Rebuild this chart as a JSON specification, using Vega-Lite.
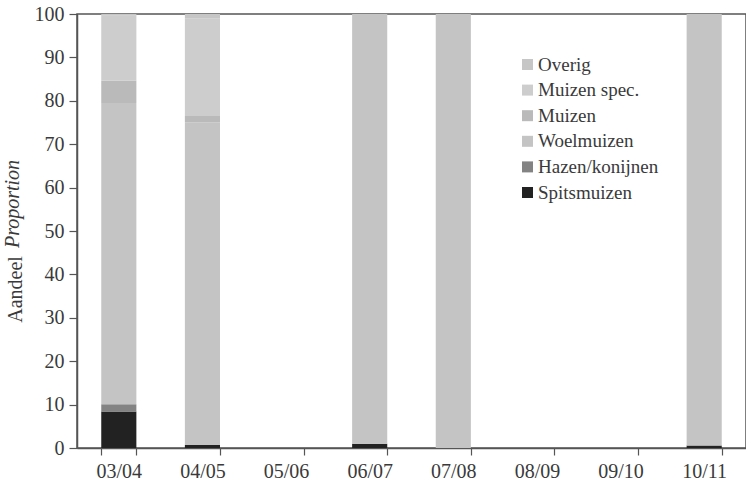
{
  "$schema": "https://vega.github.io/schema/vega-lite/v6.json",
  "autosize": {"type": "none"},
  "padding": {"left": 77, "top": 14, "right": 0, "bottom": 39},
  "width": 669,
  "height": 434,
  "background": "white",
  "title": {
    "text": "Proportion",
    "orient": "left",
    "anchor": "middle",
    "frame": "group",
    "font": "Liberation Serif",
    "fontSize": 20,
    "fontStyle": "italic",
    "fontWeight": "normal",
    "color": "#3a3a3a",
    "offset": -18,
    "dx": 27
  },
  "data": {
    "values": [
      {"season": "03/04", "group": "Spitsmuizen", "n": 1, "pct": 8.4},
      {"season": "03/04", "group": "Hazen/konijnen", "n": 2, "pct": 1.7},
      {"season": "03/04", "group": "Woelmuizen", "n": 3, "pct": 69.4},
      {"season": "03/04", "group": "Muizen", "n": 4, "pct": 5.1},
      {"season": "03/04", "group": "Muizen spec.", "n": 5, "pct": 15.0},
      {"season": "03/04", "group": "Overig", "n": 6, "pct": 0.4},
      {"season": "04/05", "group": "Spitsmuizen", "n": 1, "pct": 0.7},
      {"season": "04/05", "group": "Woelmuizen", "n": 3, "pct": 74.3},
      {"season": "04/05", "group": "Muizen", "n": 4, "pct": 1.5},
      {"season": "04/05", "group": "Muizen spec.", "n": 5, "pct": 22.5},
      {"season": "04/05", "group": "Overig", "n": 6, "pct": 1.0},
      {"season": "06/07", "group": "Spitsmuizen", "n": 1, "pct": 1.0},
      {"season": "06/07", "group": "Woelmuizen", "n": 3, "pct": 99.0},
      {"season": "07/08", "group": "Woelmuizen", "n": 3, "pct": 100},
      {"season": "10/11", "group": "Spitsmuizen", "n": 1, "pct": 0.6},
      {"season": "10/11", "group": "Woelmuizen", "n": 3, "pct": 99.4}
    ]
  },
  "mark": {"type": "bar", "stroke": null},
  "encoding": {
    "x": {
      "field": "season",
      "type": "nominal",
      "scale": {
        "domain": ["03/04", "04/05", "05/06", "06/07", "07/08", "08/09", "09/10", "10/11"],
        "paddingInner": 0.58,
        "paddingOuter": 0.29
      },
      "axis": {
        "title": null,
        "labelAngle": 0,
        "tickBand": "extent",
        "tickSize": 7,
        "labelPadding": 6,
        "grid": false
      }
    },
    "y": {
      "field": "pct",
      "type": "quantitative",
      "stack": "zero",
      "scale": {"domain": [0, 100], "nice": false},
      "axis": {
        "title": "Aandeel",
        "values": [0, 10, 20, 30, 40, 50, 60, 70, 80, 90, 100],
        "tickSize": 8,
        "labelPadding": 5,
        "grid": false,
        "titleX": -62,
        "titleY": 275,
        "titleAngle": -90,
        "titleAlign": "center",
        "titleBaseline": "middle"
      }
    },
    "color": {
      "field": "group",
      "type": "nominal",
      "scale": {
        "domain": ["Overig", "Muizen spec.", "Muizen", "Woelmuizen", "Hazen/konijnen", "Spitsmuizen"],
        "range": ["#c6c6c6", "#cdcdcd", "#bababa", "#c4c4c4", "#838383", "#222222"]
      },
      "legend": {
        "title": null,
        "orient": "none",
        "legendX": 441,
        "legendY": 41,
        "symbolType": "square",
        "symbolSize": 121,
        "symbolStrokeWidth": 0,
        "symbolOpacity": 1,
        "labelOffset": 1,
        "rowPadding": 5.6,
        "labelFont": "Liberation Serif",
        "labelFontSize": 19,
        "labelColor": "#3a3a3a"
      }
    },
    "order": {"field": "n", "type": "quantitative", "sort": "ascending"}
  },
  "config": {
    "view": {"stroke": "#555555", "strokeWidth": 1.5},
    "axis": {
      "domainColor": "#555555",
      "domainWidth": 1.5,
      "tickColor": "#555555",
      "tickWidth": 1.2,
      "labelFont": "Liberation Serif",
      "labelFontSize": 20,
      "labelColor": "#3a3a3a",
      "titleFont": "Liberation Serif",
      "titleFontSize": 20,
      "titleFontWeight": "normal",
      "titleColor": "#3a3a3a"
    },
    "legend": {
      "labelFont": "Liberation Serif",
      "labelFontSize": 19,
      "labelColor": "#3a3a3a",
      "padding": 0
    }
  }
}
